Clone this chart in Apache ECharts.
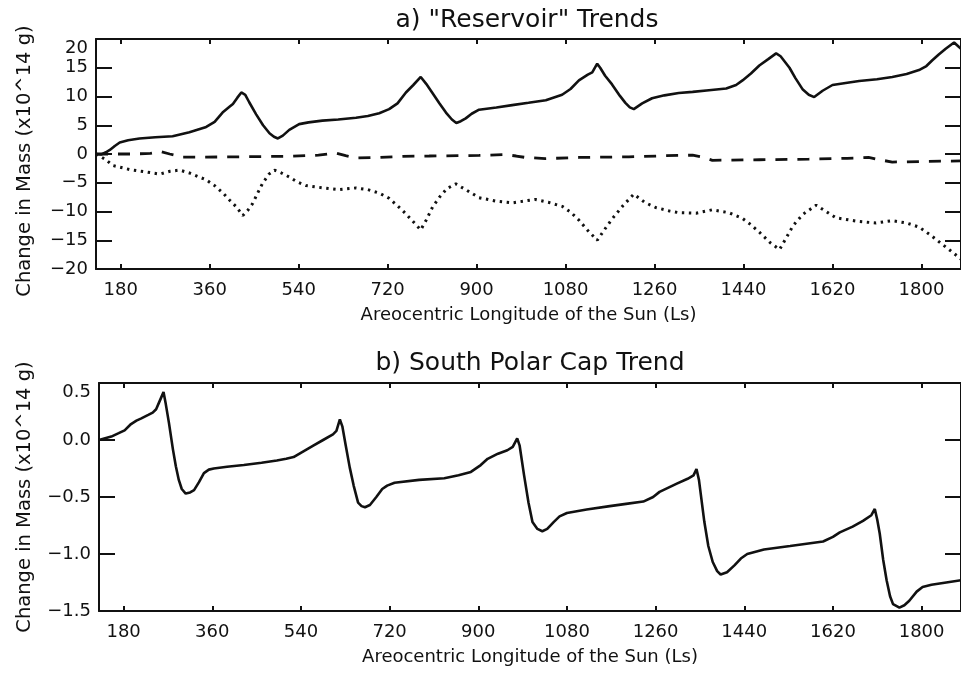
<!DOCTYPE html>
<html>
<head>
<meta charset="utf-8">
<script src="https://cdn.jsdelivr.net/npm/echarts@6/dist/echarts.min.js"></script>
<style>
html,body{margin:0;padding:0;background:#fff;}
#chart{width:961px;height:673px;}
</style>
</head>
<body>
<div id="chart"></div>
<script>
// ---- data (Ls in degrees, change in mass in 1e14 g) ----
const xTicks = [180, 360, 540, 720, 900, 1080, 1260, 1440, 1620, 1800];
const xMin = 130, xMax = 1880;

const titleA = 'a) "Reservoir" Trends';
const titleB = 'b) South Polar Cap Trend';
const xName = 'Areocentric Longitude of the Sun (Ls)';
const yName = 'Change in Mass (x10^14 g)';

// panel a: solid curve
const reservoirSolid = [
  [130,0],[140,-0.1],[150,0.3],[158,0.7],[168,1.4],[178,2.0],[195,2.4],[218,2.7],[250,2.9],[285,3.1],
  [319,3.8],[353,4.7],[370,5.6],[386,7.2],[400,8.2],[407,8.7],[416,9.8],[424,10.7],[432,10.3],[440,9.0],
  [454,6.9],[468,5.0],[481,3.6],[490,3.0],[498,2.7],[508,3.2],[521,4.2],[541,5.2],[560,5.5],[588,5.8],
  [620,6.0],[656,6.3],[680,6.6],[703,7.1],[723,7.8],[740,8.8],[757,10.7],[772,12.0],[787,13.4],[798,12.2],
  [810,10.7],[825,8.8],[838,7.2],[850,6.0],[859,5.4],[868,5.7],[878,6.2],[890,7.0],[905,7.7],[940,8.1],
  [972,8.5],[1005,8.9],[1040,9.35],[1073,10.3],[1090,11.3],[1107,12.8],[1125,13.8],[1134,14.2],[1144,15.7],[1150,15.0],
  [1160,13.6],[1174,12.1],[1190,10.1],[1201,8.9],[1210,8.1],[1218,7.8],[1235,8.8],[1255,9.7],[1280,10.2],[1309,10.6],
  [1337,10.8],[1370,11.1],[1405,11.4],[1425,12.0],[1438,12.8],[1455,14.0],[1472,15.4],[1490,16.5],[1506,17.5],[1515,17.0],
  [1533,15.0],[1545,13.2],[1560,11.2],[1572,10.3],[1583,9.9],[1600,11.0],[1620,12.0],[1650,12.4],[1674,12.7],[1710,13.0],
  [1741,13.4],[1770,13.9],[1795,14.6],[1810,15.3],[1822,16.3],[1835,17.3],[1849,18.3],[1866,19.4],[1876,18.6],[1880,18.3]
];
// panel a: dashed curve
const reservoirDashed = [
  [130,0],[160,0],[200,0],[240,0.1],[262,0.4],[279,0],[306,-0.55],[350,-0.55],[400,-0.5],[460,-0.45],
  [521,-0.4],[580,-0.2],[615,0.15],[635,-0.3],[656,-0.7],[703,-0.6],[750,-0.4],[804,-0.35],[905,-0.25],[958,-0.1],
  [980,-0.35],[999,-0.6],[1039,-0.8],[1107,-0.6],[1208,-0.5],[1283,-0.3],[1337,-0.2],[1360,-0.6],[1377,-1.1],[1472,-1.0],
  [1572,-0.9],[1650,-0.75],[1693,-0.6],[1715,-1.0],[1741,-1.4],[1808,-1.3],[1880,-1.2]
];
// panel a: dotted curve
const reservoirDotted = [
  [130,0],[150,-1.0],[164,-2.0],[198,-2.7],[230,-3.1],[259,-3.5],[280,-3.0],[299,-2.8],[319,-3.3],[353,-4.5],
  [370,-5.5],[387,-6.8],[400,-8.0],[414,-9.2],[427,-10.7],[437,-9.8],[447,-8.6],[457,-6.8],[467,-5.1],[480,-3.5],
  [491,-2.8],[505,-3.3],[521,-4.0],[538,-4.9],[555,-5.5],[590,-5.9],[622,-6.2],[656,-5.9],[680,-6.2],[703,-6.8],
  [723,-7.7],[750,-9.8],[770,-11.6],[787,-13.2],[798,-11.5],[811,-9.2],[825,-7.5],[840,-6.0],[858,-5.2],[880,-6.3],
  [905,-7.6],[940,-8.2],[972,-8.5],[1019,-7.9],[1045,-8.4],[1073,-9.1],[1090,-10.1],[1107,-11.5],[1125,-13.3],[1144,-15.0],
  [1160,-13.0],[1174,-11.3],[1196,-9.0],[1218,-7.0],[1240,-8.4],[1262,-9.3],[1290,-9.9],[1309,-10.2],[1344,-10.3],[1377,-9.7],
  [1410,-10.2],[1438,-11.2],[1455,-12.3],[1472,-13.6],[1495,-15.5],[1513,-16.6],[1527,-14.5],[1540,-12.5],[1560,-10.5],[1587,-8.9],
  [1607,-10.0],[1627,-11.1],[1670,-11.7],[1708,-12.0],[1741,-11.6],[1770,-12.0],[1795,-12.7],[1820,-14.2],[1842,-15.7],[1860,-16.9],
  [1876,-18.0],[1880,-18.3]
];
// panel b: south polar cap trend
const southCapTrend = [
  [130,0.0],[155,0.03],[170,0.06],[182,0.085],[195,0.14],[206,0.17],[216,0.19],[230,0.22],[239,0.24],[246,0.27],
  [252,0.33],[261,0.42],[265,0.33],[272,0.15],[280,-0.08],[286,-0.23],[292,-0.35],[298,-0.43],[306,-0.47],[315,-0.46],
  [323,-0.44],[333,-0.37],[343,-0.29],[353,-0.26],[363,-0.25],[390,-0.235],[424,-0.22],[460,-0.2],[491,-0.18],[510,-0.165],
  [525,-0.15],[545,-0.1],[565,-0.05],[585,0.0],[605,0.05],[612,0.08],[619,0.18],[624,0.12],[631,-0.05],[639,-0.24],
  [647,-0.4],[656,-0.55],[663,-0.58],[670,-0.59],[680,-0.57],[693,-0.5],[705,-0.43],[715,-0.4],[730,-0.375],[780,-0.35],
  [831,-0.335],[860,-0.31],[885,-0.28],[905,-0.22],[919,-0.165],[940,-0.12],[959,-0.09],[970,-0.06],[979,0.015],[984,-0.05],
  [993,-0.31],[1002,-0.55],[1010,-0.72],[1020,-0.78],[1030,-0.80],[1040,-0.78],[1053,-0.72],[1065,-0.67],[1080,-0.64],[1120,-0.61],
  [1167,-0.58],[1200,-0.56],[1235,-0.54],[1255,-0.5],[1268,-0.455],[1285,-0.42],[1302,-0.385],[1325,-0.34],[1337,-0.31],[1343,-0.255],
  [1348,-0.35],[1359,-0.72],[1367,-0.93],[1376,-1.07],[1385,-1.15],[1392,-1.18],[1405,-1.16],[1420,-1.10],[1433,-1.04],[1446,-1.0],
  [1480,-0.96],[1533,-0.93],[1600,-0.89],[1620,-0.85],[1634,-0.81],[1660,-0.76],[1681,-0.71],[1698,-0.66],[1705,-0.605],[1710,-0.7],
  [1715,-0.82],[1722,-1.05],[1729,-1.23],[1736,-1.37],[1742,-1.44],[1755,-1.47],[1765,-1.45],[1775,-1.41],[1790,-1.33],[1802,-1.29],
  [1820,-1.27],[1850,-1.25],[1880,-1.23]
];

// ---- styling ----
const INK = '#111';
const FONT = 'DejaVu Sans';
const txt = (size) => ({ color: INK, fontFamily: FONT, fontSize: size });
const minus = (s) => s.replace('-', '\u2212');

function xAxesFor(gi) {
  const base = {
    gridIndex: gi, type: 'value', min: xMin, max: xMax,
    axisLine: { show: true, onZero: false, lineStyle: { color: INK, width: 2 } },
    splitLine: { show: false }
  };
  return [
    Object.assign({}, base, {
      position: 'bottom',
      axisTick: { show: true, inside: true, length: 5, customValues: xTicks, lineStyle: { color: INK, width: 2 } },
      axisLabel: Object.assign({ show: true, margin: 12, customValues: xTicks, formatter: (v) => String(v) }, txt(18)),
      name: xName, nameLocation: 'middle', nameGap: 37, nameTextStyle: txt(18)
    }),
    Object.assign({}, base, {
      position: 'top',
      axisTick: { show: true, inside: true, length: 5, customValues: xTicks, lineStyle: { color: INK, width: 2 } },
      axisLabel: { show: false }
    })
  ];
}

function yAxesFor(gi, min, max, interval, fmt, nameGap, namePad) {
  const base = {
    gridIndex: gi, type: 'value', min: min, max: max, interval: interval,
    axisLine: { show: true, onZero: false, lineStyle: { color: INK, width: 2 } },
    axisTick: { show: true, inside: true, length: 16, lineStyle: { color: INK, width: 2 } },
    splitLine: { show: false }
  };
  return [
    Object.assign({}, base, {
      position: 'left',
      axisLabel: Object.assign({ show: true, margin: 8, formatter: fmt, verticalAlignMaxLabel: 'top' }, txt(18)),
      name: yName, nameLocation: 'middle', nameGap: nameGap, nameRotate: 90,
      nameTextStyle: Object.assign({ padding: namePad }, txt(19.5))
    }),
    Object.assign({}, base, { position: 'right', axisLabel: { show: false } })
  ];
}

const chart = echarts.init(document.getElementById('chart'), null, { renderer: 'canvas' });
chart.setOption({
  animation: false,
  backgroundColor: '#fff',
  graphic: [
    { type: 'text', x: 527, y: 20, style: { text: titleA, textAlign: 'center', textVerticalAlign: 'middle', fill: INK, font: '25px "DejaVu Sans"' } },
    { type: 'text', x: 530, y: 363, style: { text: titleB, textAlign: 'center', textVerticalAlign: 'middle', fill: INK, font: '25px "DejaVu Sans"' } }
  ],
  grid: [
    { left: 96, top: 39, width: 867, height: 230 },
    { left: 99, top: 383, width: 868, height: 228 }
  ],
  xAxis: xAxesFor(0).concat(xAxesFor(1)),
  yAxis: yAxesFor(0, -20, 20, 5, (v) => minus(String(v)), 61, [0, 14, 0, 0])
    .concat(yAxesFor(1, -1.5, 0.5, 0.5, (v) => minus(v.toFixed(1)), 64, [0, 0, 0, 0])),
  series: [
    { name: 'solid', type: 'line', xAxisIndex: 0, yAxisIndex: 0, data: reservoirSolid,
      symbol: 'none', lineStyle: { color: INK, width: 2.6 } },
    { name: 'dashed', type: 'line', xAxisIndex: 0, yAxisIndex: 0, data: reservoirDashed,
      symbol: 'none', lineStyle: { color: INK, width: 2.8, type: [12, 10] } },
    { name: 'dotted', type: 'line', xAxisIndex: 0, yAxisIndex: 0, data: reservoirDotted,
      symbol: 'none', lineStyle: { color: INK, width: 3, type: [2.4, 4.6] } },
    { name: 'South Polar Cap', type: 'line', xAxisIndex: 2, yAxisIndex: 2, data: southCapTrend,
      symbol: 'none', lineStyle: { color: INK, width: 2.6 } }
  ]
});
</script>
</body>
</html>
